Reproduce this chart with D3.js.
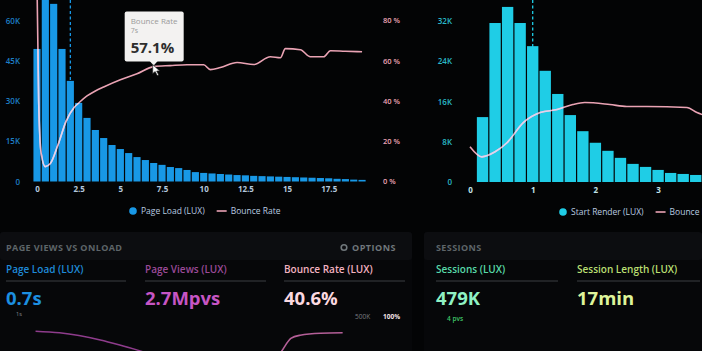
<!DOCTYPE html>
<html>
<head>
<meta charset="utf-8">
<script src="https://cdn.jsdelivr.net/npm/d3@7"></script>
<style>
body { margin: 0; background: #030405; overflow: hidden; }
svg { display: block; font-family: "Open Sans", sans-serif; }
</style>
</head>
<body>
<div id="chart"></div>
<script>
// page load histogram (seconds, count) + bounce rate
const loadBins = [0, 0.5, 1, 1.5, 2, 2.5, 3, 3.5, 4, 4.5, 5, 5.5, 6, 6.5, 7, 7.5, 8, 8.5, 9, 9.5,
    10, 10.5, 11, 11.5, 12, 12.5, 13, 13.5, 14, 14.5, 15, 15.5, 16, 16.5, 17, 17.5, 18, 18.5, 19, 19.5];
const loadCounts = [49400, 75000, 66200, 49400, 37500, 29300, 23700, 19200, 16200, 13600, 12100, 10600, 9100, 8000, 6900, 6200, 5400, 5000, 4300, 3500,
    3200, 3000, 2800, 2600, 2400, 2300, 2100, 2000, 1900, 1800, 1700, 1600, 1500, 1400, 1300, 1200, 1000, 900, 700, 600];
const loadBounceX = [0, 0.1, 0.25, 0.5, 0.8, 1.25, 1.75, 2.25, 2.5, 3, 3.5, 4, 5, 6, 7, 8, 9, 10, 10.4, 11, 12, 13, 14, 14.6, 14.9, 15.8, 16.4, 17.2, 17.6, 18.5, 19.5];
const loadBounceRate = [98, 40, 14, 7.4, 8.9, 18, 30, 37, 39, 42.5, 45, 47, 50.6, 53.5, 57.1, 57.6, 58, 58, 55.6, 56.6, 59.1, 58.1, 62, 61.5, 66, 65.5, 62, 62, 65, 64.7, 64.5];

// start render histogram
const renderBins = [0.2, 0.4, 0.6, 0.8, 1.0, 1.2, 1.4, 1.6, 1.8, 2.0, 2.2, 2.4, 2.6, 2.8, 3.0, 3.2, 3.4, 3.6];
const renderCounts = [12900, 31600, 34800, 31600, 27000, 22100, 17500, 13300, 10100, 7800, 6200, 4800, 3600, 3000, 2400, 1800, 1600, 1400];
const renderBounceX = [0, 0.19, 0.4, 0.59, 0.85, 1.12, 1.39, 1.64, 1.83, 2.23, 2.5, 2.82, 3.46, 3.62, 3.75];
const renderBounceRate = [17.5, 12.5, 15, 19.5, 29.5, 34.5, 36, 38.5, 39.5, 38.5, 37.5, 37.5, 37, 34.5, 33];

const leftYTicks = [0, 15000, 30000, 45000, 60000];
const leftXTicks = [0, 2.5, 5, 7.5, 10, 12.5, 15, 17.5];
const pctTicks = [0, 20, 40, 60, 80];
const rightYTicks = [0, 8000, 16000, 24000, 32000];
const rightXTicks = [0, 1, 2, 3];

// bottom tiles
const tileLabels = ["Page Load (LUX)", "Page Views (LUX)", "Bounce Rate (LUX)", "Sessions (LUX)", "Session Length (LUX)"];
const tileValues = ["0.7s", "2.7Mpvs", "40.6%", "479K", "17min"];
const viewsTrendX = [0.15, 0.8, 1.9, 2.4, 3.0, 3.6];
const viewsTrendY = [86, 84, 75, 69, 61, 50];
const bounceTrendX = [6.5, 6.8, 7.05, 7.3, 7.85, 8.45];
const bounceTrendY = [45, 61, 77, 81, 83.5, 84];

const W = 702, H = 351;
const svg = d3.select("#chart").append("svg").attr("width", W).attr("height", H);
svg.append("rect").attr("width", W).attr("height", H).attr("fill", "#030405");

const kFmt = d => d === 0 ? "0" : (d / 1000) + "K";
const pink = "#eaa3b4", lav = "#ddd6f2";

function histogram(opts) {
    const g = svg.append("g");
    const x = d3.scaleLinear().domain(opts.xDomain).range(opts.xRange);
    const y = d3.scaleLinear().domain(opts.yDomain).range([opts.base, opts.top]);
    const yp = d3.scaleLinear().domain([0, 80]).range([opts.base, opts.top]);
    const bw = x(opts.step) - x(0);

    // left count axis
    const ya = g.append("g").attr("transform", `translate(${opts.yAxisX},0)`)
        .call(d3.axisLeft(y).tickValues(opts.yTicks).tickFormat(kFmt).tickSize(0).tickPadding(0));
    ya.select(".domain").remove();
    ya.selectAll("text").attr("fill", opts.yColor).style("font-size", "8px").style("font-weight", 600)
        .style("font-family", "Open Sans");

    const xa = g.append("g").attr("transform", `translate(0,${opts.base + 5})`)
        .call(d3.axisBottom(x).tickValues(opts.xTicks).tickFormat(d => String(d)).tickSize(0).tickPadding(0));
    xa.select(".domain").remove();
    xa.selectAll("text").attr("fill", opts.xColor).style("font-size", "8px").style("font-weight", 700)
        .style("font-family", "Open Sans");

    if (opts.pctAxisX) {
        const pa = g.append("g").attr("transform", `translate(${opts.pctAxisX},0)`)
            .call(d3.axisRight(yp).tickValues(pctTicks).tickFormat(d => d + " %").tickSize(0).tickPadding(0));
        pa.select(".domain").remove();
        pa.selectAll("text").attr("fill", pink).style("font-size", "7.5px").style("font-weight", 600)
            .style("font-family", "Open Sans");
    }

    // marker line
    g.append("line").attr("x1", x(opts.marker)).attr("x2", x(opts.marker))
        .attr("y1", 0).attr("y2", opts.base)
        .attr("stroke", opts.barColor).attr("stroke-width", 1.3).attr("stroke-dasharray", "3,2.5");

    const bars = (sel) => sel.selectAll("rect").data(opts.bins).join("rect")
        .attr("x", d => x(d) - bw / 2 + 0.6)
        .attr("width", bw - 1.2)
        .attr("y", (d, i) => y(opts.counts[i]))
        .attr("height", (d, i) => opts.base - y(opts.counts[i]));

    g.append("g").attr("fill", opts.barColor).call(bars);

    const clipId = opts.id + "-clip";
    svg.append("clipPath").attr("id", clipId).call(bars);

    const pts = opts.lineX.map((d, i) => [x(d), yp(opts.lineY[i])]);
    const line = d3.line().curve(d3.curveMonotoneX);
    g.append("path").attr("d", line(pts)).attr("fill", "none").attr("stroke", pink).attr("stroke-width", 1.6);
    g.append("path").attr("d", line(pts)).attr("fill", "none").attr("stroke", lav).attr("stroke-width", 1.6)
        .attr("clip-path", `url(#${clipId})`);

    // legend
    const lg = g.append("g").attr("transform", `translate(${opts.legendX},${opts.legendY})`);
    lg.append("circle").attr("cx", 0).attr("cy", 0).attr("r", 3.8).attr("fill", opts.barColor);
    const t1 = lg.append("text").attr("x", 8).attr("y", 3).attr("fill", "#b9cbe0").style("font-size", "8.5px")
        .text(opts.legendLabel);
    const tw = 8 + t1.node().getComputedTextLength() + 12;
    lg.append("line").attr("x1", tw).attr("x2", tw + 10).attr("y1", 0).attr("y2", 0)
        .attr("stroke", pink).attr("stroke-width", 1.6);
    lg.append("text").attr("x", tw + 14).attr("y", 3).attr("fill", "#b9cbe0").style("font-size", "8.5px")
        .text("Bounce Rate");

    return { x, yp };
}

const left = histogram({
    id: "load", bins: loadBins, counts: loadCounts, step: 0.5,
    xDomain: [0, 20], xRange: [37, 370.4], yDomain: [0, 60000], base: 181.5, top: 20.5,
    yTicks: leftYTicks, xTicks: leftXTicks, yAxisX: 20, pctAxisX: 383,
    yColor: "#1d7fc6", xColor: "#b4c8de", barColor: "#1898e6",
    marker: 2, lineX: loadBounceX, lineY: loadBounceRate,
    legendX: 133, legendY: 211, legendLabel: "Page Load (LUX)"
});

histogram({
    id: "render", bins: renderBins, counts: renderCounts, step: 0.2,
    xDomain: [0, 4], xRange: [470, 720.8], yDomain: [0, 32000], base: 182, top: 21,
    yTicks: rightYTicks, xTicks: rightXTicks, yAxisX: 452,
    yColor: "#2ab9c9", xColor: "#c2e4ea", barColor: "#1fcde6",
    marker: 1, lineX: renderBounceX, lineY: renderBounceRate,
    legendX: 563, legendY: 212, legendLabel: "Start Render (LUX)"
});

// tooltip at 7s
const tipI = loadBounceX.indexOf(7);
const tx = left.x(7), ty = left.yp(loadBounceRate[tipI]);
const tip = svg.append("g").attr("transform", `translate(${tx},${ty})`);
tip.append("rect").attr("x", -29).attr("y", -55).attr("width", 59).attr("height", 50).attr("rx", 2)
    .attr("fill", "#f3f2f1");
tip.append("path").attr("d", "M-4,-5.5L0,-1L4,-5.5Z").attr("fill", "#f3f2f1");
tip.append("text").attr("x", -23).attr("y", -43).attr("fill", "#9a9a9a").style("font-size", "8px").text("Bounce Rate");
tip.append("text").attr("x", -23).attr("y", -34).attr("fill", "#9a9a9a").style("font-size", "7px").text("7s");
tip.append("text").attr("x", -23).attr("y", -14).attr("fill", "#2e2e2e").style("font-size", "15px")
    .style("font-weight", 700).text(loadBounceRate[tipI] + "%");
tip.append("path").attr("d", "M-1,-2L-1,7L1.5,5L3.5,9L5,8.3L3,4.5L6,4.3Z")
    .attr("fill", "#fff").attr("stroke", "#222").attr("stroke-width", 0.7);

// bottom panels
const panels = [{ x: 0, w: 412, title: "PAGE VIEWS VS ONLOAD" }, { x: 424, w: 278, title: "SESSIONS" }];
panels.forEach(p => {
    svg.append("rect").attr("x", p.x).attr("y", 232).attr("width", p.w).attr("height", 130).attr("rx", 3).attr("fill", "#060709");
    svg.append("rect").attr("x", p.x).attr("y", 232).attr("width", p.w).attr("height", 28).attr("rx", 3).attr("fill", "#0c0d10");
    svg.append("text").attr("x", p.x + (p.x ? 12 : 6)).attr("y", 251).attr("fill", "#5e6569")
        .style("font-size", "9px").style("font-weight", 700).style("letter-spacing", "0.4px").text(p.title);
});
const opt = svg.append("g").attr("transform", "translate(344,247.5)");
opt.append("circle").attr("r", 2.8).attr("fill", "none").attr("stroke", "#70777b").attr("stroke-width", 1.6);
opt.append("text").attr("x", 8).attr("y", 3.5).attr("fill", "#70777b").style("font-size", "9px")
    .style("font-weight", 700).style("letter-spacing", "0.5px").text("OPTIONS");

const tileX = [6, 145, 284, 436, 577];
const tileW = [120, 121, 121, 122, 123];
const labelColors = ["#1f8ad8", "#9b4a98", "#f2b2c0", "#58d9a8", "#b9df72"];
const valueColors = ["#1c8fe0", "#c655c4", "#fbd9e0", "#8ff2c4", "#def49a"];
tileLabels.forEach((t, i) => {
    svg.append("text").attr("x", tileX[i]).attr("y", 273).attr("fill", labelColors[i])
        .style("font-size", "10px").style("font-weight", 600).text(t);
    svg.append("line").attr("x1", tileX[i]).attr("x2", tileX[i] + tileW[i]).attr("y1", 281).attr("y2", 281)
        .attr("stroke", "#3b3e42").attr("stroke-width", 1);
    svg.append("text").attr("x", tileX[i]).attr("y", 305).attr("fill", valueColors[i])
        .style("font-size", "18.5px").style("font-weight", 700).text(tileValues[i]);
});
svg.append("text").attr("x", 16).attr("y", 316).attr("fill", "#8a9098").style("font-size", "5.5px").text("1s");
svg.append("text").attr("x", 355).attr("y", 319).attr("fill", "#7a7d80").style("font-size", "6.5px").text("500K");
svg.append("text").attr("x", 383).attr("y", 319).attr("fill", "#f3e3e6").style("font-size", "6.5px").style("font-weight", 700).text("100%");
svg.append("text").attr("x", 447).attr("y", 321).attr("fill", "#3fc468").style("font-size", "6.5px").style("font-weight", 600).text("4 pvs");

// bottom trend lines
const sx = d3.scaleLinear().domain([0, 10]).range([30, 400]);
const sy = d3.scaleLinear().domain([0, 100]).range([400, 320]);
const trend = d3.line().x(d => sx(d[0])).y(d => sy(d[1])).curve(d3.curveMonotoneX);
svg.append("path").attr("d", trend(viewsTrendX.map((d, i) => [d, viewsTrendY[i]])))
    .attr("fill", "none").attr("stroke", "#8e3c8c").attr("stroke-width", 1.6);
svg.append("path").attr("d", trend(bounceTrendX.map((d, i) => [d, bounceTrendY[i]])))
    .attr("fill", "none").attr("stroke", "#b45f98").attr("stroke-width", 1.6);
</script>
</body>
</html>
